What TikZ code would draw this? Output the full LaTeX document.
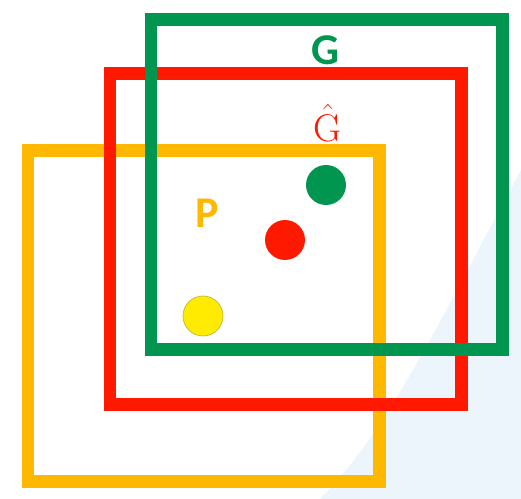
\documentclass[tikz,border=0pt]{standalone}
\usepackage{fontspec}
\setsansfont{Carlito}
\definecolor{pgreen}{RGB}{0,150,80}
\definecolor{pred}{RGB}{255,25,0}
\definecolor{porange}{RGB}{255,184,0}
\definecolor{pyellow}{RGB}{255,235,0}
\definecolor{wash}{RGB}{236,245,251}
\begin{document}
\begin{tikzpicture}[x=0.02cm, y=-0.02cm,
  frame/.style={draw=#1, line width=0.26cm, line join=miter},
  dot/.style={circle, fill=#1, minimum size=0.8cm, inner sep=0pt},
  lbl/.style={text=#1, font=\sffamily\bfseries\fontsize{25}{25}\selectfont, inner sep=0pt}
]
\useasboundingbox (0,0) rectangle (521,499);
% faint backdrop
\fill[wash] (320,499) .. controls (390,430) and (450,300) .. (521,170) -- (521,499) -- cycle;
% the three sets
\draw[frame=porange] (28,151) rectangle (379,482);
\draw[frame=pred] (110,74) rectangle (461,405);
\draw[frame=pgreen] (151,20) rectangle (502,350);
% labels
\node[lbl=pgreen] (labG) at (325,50) {G};
\node[text=pred, font=\fontsize{22}{22}\selectfont, inner sep=0pt] (labGhat) at (328,123) {$\hat{\mathrm{G}}$};
\node[lbl=porange] (labP) at (207,213) {P};
% points
\node[dot=pgreen] (ptG) at (326,185) {};
\node[dot=pred] (ptGhat) at (285,240) {};
\node[dot=pyellow, draw=pyellow!70!black!80, line width=0.4pt] (ptP) at (203,316) {};
\end{tikzpicture}
\end{document}
